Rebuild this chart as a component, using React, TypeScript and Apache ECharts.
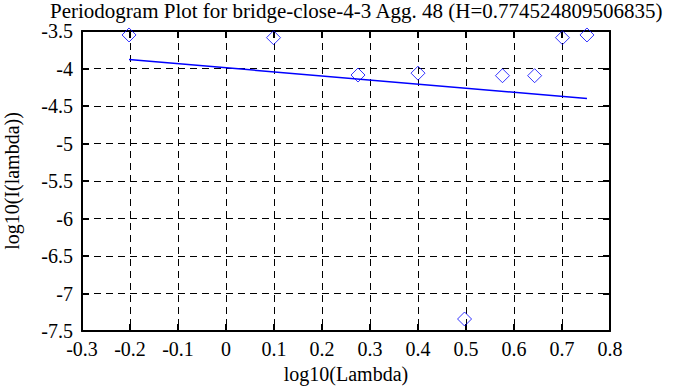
import React, { useEffect, useRef } from "react";
import * as echarts from "echarts";

const titleText = "Periodogram Plot for bridge-close-4-3 Agg. 48 (H=0.774524809506835)";
const xName = "log10(Lambda)";
const yName = "log10(I(lambda))";
const logLambda = [-0.202, 0.099, 0.275, 0.4, 0.497, 0.576, 0.643, 0.701, 0.752];
const logI = [-3.553, -3.589, -4.087, -4.062, -7.34, -4.096, -4.096, -3.589, -3.553];
const fitX = [-0.202, 0.752];
const fitY = [-3.88, -4.4];

const FONT = "'Liberation Serif', 'DejaVu Serif', serif";

export default function App() {
  const ref = useRef<HTMLDivElement>(null);
  useEffect(() => {
    if (!ref.current) return;
    const chart = echarts.init(ref.current, null, { renderer: "svg" });
    const axisCommon = {
      type: "value" as const,
      axisLine: { show: true, onZero: false, lineStyle: { color: "#000", width: 2 } },
      axisTick: { show: true, inside: true, length: 7, lineStyle: { color: "#000", width: 2 } },
    };
    const gridLine = { show: true, lineStyle: { color: "#000", type: [7, 5], width: 1 } };
    chart.setOption({
      animation: false,
      backgroundColor: "#fff",
      textStyle: { fontFamily: FONT },
      title: {
        text: titleText,
        left: 50,
        top: 0,
        padding: 0,
        textStyle: { fontFamily: FONT, fontSize: 21, fontWeight: "normal", color: "#000" },
      },
      grid: {
        left: 82,
        right: 78,
        top: 31,
        bottom: 56,
        containLabel: false,
        outerBoundsMode: "none",
      },
      xAxis: [
        {
          ...axisCommon,
          position: "bottom",
          min: -0.3,
          max: 0.8,
          interval: 0.1,
          splitLine: gridLine,
          axisLabel: { color: "#000", fontFamily: FONT, fontSize: 20, margin: 8 },
          name: xName,
          nameLocation: "middle",
          nameGap: 32,
          nameTextStyle: { color: "#000", fontFamily: FONT, fontSize: 20 },
        },
        {
          ...axisCommon,
          position: "top",
          min: -0.3,
          max: 0.8,
          interval: 0.1,
          splitLine: { show: false },
          axisLabel: { show: false },
        },
      ],
      yAxis: [
        {
          ...axisCommon,
          position: "left",
          min: -7.5,
          max: -3.5,
          interval: 0.5,
          splitLine: gridLine,
          axisLabel: { color: "#000", fontFamily: FONT, fontSize: 20, margin: 9 },
          name: yName,
          nameLocation: "middle",
          nameGap: 60,
          nameTextStyle: { color: "#000", fontFamily: FONT, fontSize: 20 },
        },
        {
          ...axisCommon,
          position: "right",
          min: -7.5,
          max: -3.5,
          interval: 0.5,
          splitLine: { show: false },
          axisLabel: { show: false },
        },
      ],
      series: [
        {
          type: "scatter",
          symbol: "diamond",
          symbolSize: 14,
          itemStyle: { color: "rgba(0,0,0,0)", borderColor: "#0000ff", borderWidth: 1 },
          data: logLambda.map((x, i) => [x, logI[i]]),
          z: 3,
        },
        {
          type: "line",
          showSymbol: false,
          symbol: "none",
          lineStyle: { color: "#0000ff", width: 1.5 },
          data: fitX.map((x, i) => [x, fitY[i]]),
          z: 4,
        },
      ],
    });
    return () => chart.dispose();
  }, []);
  return (
    <div
      ref={ref}
      style={{ position: "fixed", left: 0, top: 0, width: 688, height: 387 }}
    />
  );
}
